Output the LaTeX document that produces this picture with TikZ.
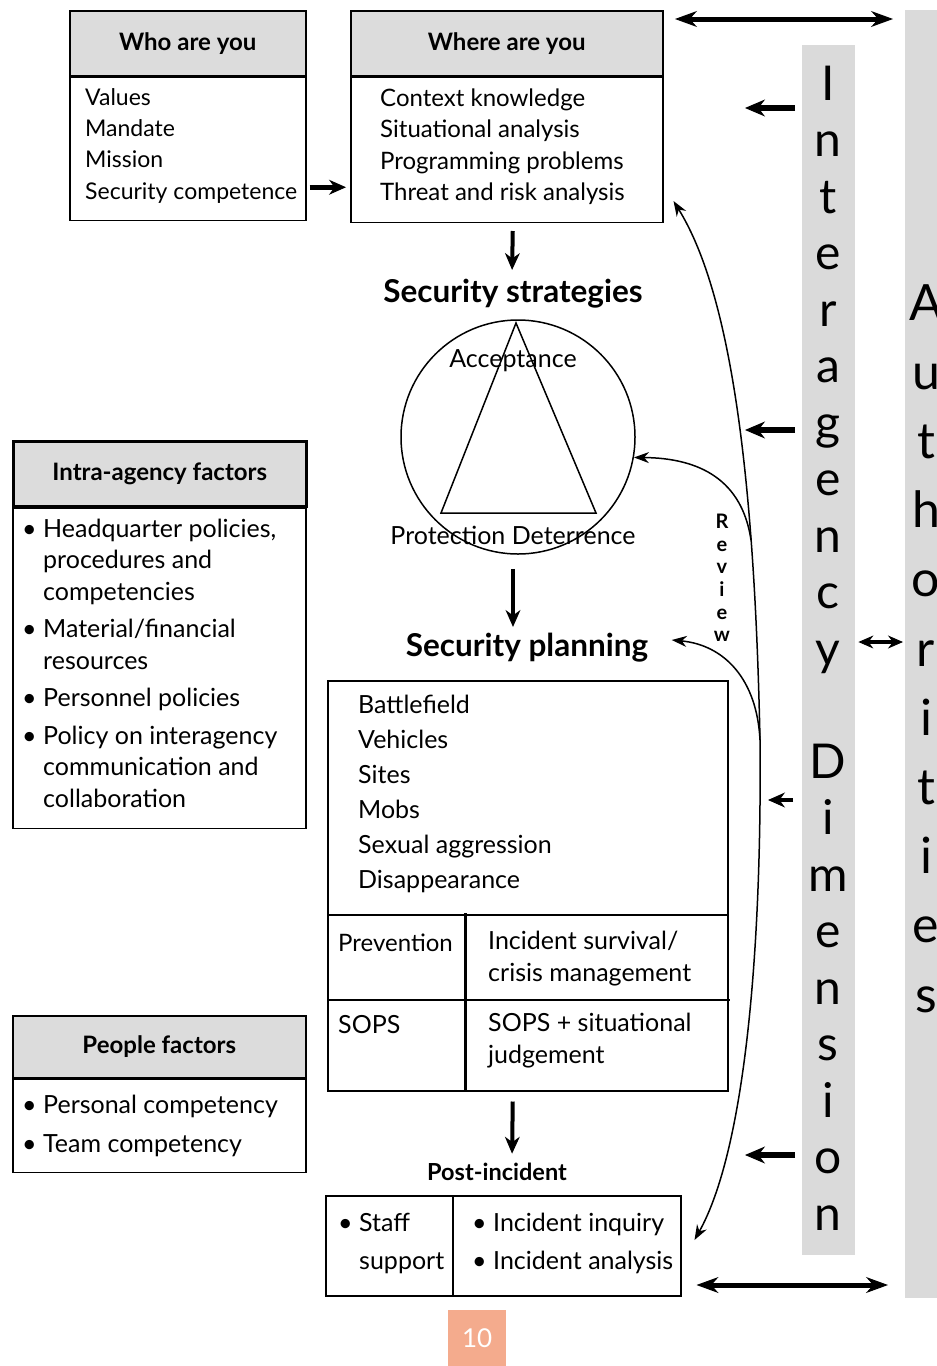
\documentclass[tikz,border=0pt]{standalone}
\usepackage{fontspec}
\setmainfont{Lato}
\usetikzlibrary{arrows.meta,positioning}
\definecolor{hgray}{HTML}{DCDCDC}
\definecolor{sgray}{HTML}{DADADA}
\definecolor{pgorange}{HTML}{F4AB8D}
\newcommand\txtfont{\fontsize{23}{31.3}\selectfont}
\newcommand\bigtxtfont{\fontsize{25}{31.5}\selectfont}
\newcommand\hdrfont{\bfseries\fontsize{24}{28}\selectfont}
\newcommand\bul{\makebox[21pt][l]{\textbullet}}
\newcommand\ind{\hspace*{21pt}}

\begin{document}
\begin{tikzpicture}[x=1pt,y=-1pt]
    \tikzstyle{hbox}=[draw, line width=1.5pt, fill=hgray, anchor=north west, minimum height=65pt, font=\hdrfont]
    \tikzstyle{bbox}=[draw, line width=1.5pt, anchor=north west]
    \tikzstyle{btxt}=[anchor=west, align=left, inner sep=0pt, font=\txtfont]
    \tikzstyle{ttl}=[font=\bfseries\fontsize{31.5}{36}\selectfont]
    \tikzstyle{marrs}=[line width=4pt,-{Stealth[length=17pt,width=15pt,line width=1pt]}]
    \tikzstyle{larrs}=[line width=6pt,-{Stealth[length=20pt,width=17pt,line width=1pt]}]
    \tikzstyle{darrs}=[line width=5pt,{Stealth[length=22pt,width=16pt,line width=1pt]}-{Stealth[length=22pt,width=16pt,line width=1pt]}]
    \tikzstyle{carr}=[line width=1.5pt,-{Stealth[length=15pt,width=11pt]}]
    \tikzstyle{cdarr}=[line width=1.5pt,{Stealth[length=15pt,width=11pt]}-{Stealth[length=15pt,width=11pt]}]
    \useasboundingbox (0,0) rectangle (937,1366);

    % the two dimension strips
    \node[fill=sgray, minimum width=53pt, minimum height=1210pt, anchor=north west, inner sep=0pt] (inter) at (802,45) {};
    \node[fill=sgray, minimum width=60pt, minimum height=1288pt, anchor=north west, inner sep=0pt] (auth) at (905,10) {};
    \foreach \c/\k in {I/0,n/1,t/2,e/3,r/4,a/5,g/6,e/7,n/8,c/9,y/10,D/12,i/13,m/14,e/15,n/16,s/17,i/18,o/19,n/20}
        \node[font=\fontsize{48}{50}\selectfont, anchor=base] (ia\k) at (828,{100+56.5*\k}) {\c};
    \foreach \c/\k in {A/0,u/1,t/2,h/3,o/4,r/5,i/6,t/7,i/8,e/9,s/10}
        \node[font=\fontsize{50}{52}\selectfont, anchor=base] (au\k) at (926,{320+69.2*\k}) {\c};

    % who / where
    \node[hbox, minimum width=236pt] (whohdr) at (69,10) {Who are you};
    \node[bbox, minimum width=236pt, minimum height=143pt] (whobody) at (whohdr.south west) {};
    \node[btxt] (whotxt) at ([xshift=16pt,yshift=3pt]whobody.west) {Values\\Mandate\\Mission\\Security competence};

    \node[hbox, minimum width=312pt] (wherehdr) at (350,10) {Where are you};
    \node[bbox, minimum width=312pt, minimum height=145pt] (wherebody) at (wherehdr.south west) {};
    \node[btxt, font=\fontsize{24}{31.3}\selectfont] (wheretxt) at ([xshift=30pt,yshift=3pt]wherebody.west) {Context knowledge\\Situational analysis\\Programming problems\\Threat and risk analysis};

    % left column
    \node[hbox, minimum width=293pt, line width=2.5pt] (intrahdr) at (12,440) {Intra-agency factors};
    \node[bbox, minimum width=293pt, minimum height=320pt] (intrabody) at (intrahdr.south west) {};
    \node[btxt, font=\bigtxtfont] (intratxt) at ([xshift=10pt,yshift=5pt]intrabody.west) {\bul Headquarter policies,\\\ind procedures and\\\ind competencies\\[6pt]\bul Material/financial\\\ind resources\\[6pt]\bul Personnel policies\\[6pt]\bul Policy on interagency\\\ind communication and\\\ind collaboration};

    \node[hbox, minimum width=293pt, minimum height=62pt] (peoplehdr) at (12,1015) {People factors};
    \node[bbox, minimum width=293pt, minimum height=93pt] (peoplebody) at (peoplehdr.south west) {};
    \node[btxt, font=\fontsize{25}{39}\selectfont] (peopletxt) at ([xshift=10pt]peoplebody.west) {\bul Personal competency\\\bul Team competency};

    % strategies
    \node[ttl] (strattitle) at (513,294) {Security strategies};
    \node[draw, circle, line width=1.5pt, minimum size=234pt] (strat) at (518,437) {};
    \draw[line width=1.5pt] (516,323) -- (441,513) -- (596,513) -- cycle;
    \node[font=\bigtxtfont] (acc) at (513,361) {Acceptance};
    \node[font=\bigtxtfont] (protdet) at (513,535) {Protection Deterrence};

    % planning
    \node[ttl] (plantitle) at (527,648) {Security planning};
    \node[bbox, minimum width=400pt, minimum height=410pt] (plan) at (327,680) {};
    \draw[line width=1.5pt] (327,915) -- (727,915);
    \draw[line width=1.5pt] (327,1000) -- (730,1000);
    \draw[line width=3pt] (465,913) -- (465,1090);
    \node[btxt, font=\fontsize{25}{35}\selectfont] (plantxt) at (358,794) {Battlefield\\Vehicles\\Sites\\Mobs\\Sexual aggression\\Disappearance};
    \node[btxt, font=\fontsize{24}{30}\selectfont] (prev) at (338,943) {Prevention};
    \node[btxt, font=\fontsize{25}{32}\selectfont] (survival) at (488,959) {Incident survival/\\crisis management};
    \node[btxt, font=\bigtxtfont] (sops) at (338,1025) {SOPS};
    \node[btxt, font=\fontsize{25}{32}\selectfont] (sopsjudge) at (488,1041) {SOPS + situational\\judgement};

    % post incident
    \node[font=\bfseries\fontsize{23.5}{26}\selectfont] (posttitle) at (497,1172) {Post-incident};
    \node[bbox, minimum width=355pt, minimum height=100pt] (post) at (325,1195) {};
    \draw[line width=1.5pt] (453,1195) -- (453,1295);
    \node[btxt, font=\fontsize{25}{38}\selectfont] (staff) at (338,1243) {\bul Staff\\\ind support};
    \node[btxt, font=\fontsize{25}{38}\selectfont] (inquiry) at (472,1243) {\bul Incident inquiry\\\bul Incident analysis};

    \node[fill=pgorange, minimum width=58pt, minimum height=56pt, anchor=north west, text=white, font=\fontsize{26}{30}\selectfont] (pg) at (448,1310) {10};

    % straight arrows
    \coordinate (wa) at ([yshift=-38.5pt]whobody.east);
    \draw[marrs, line width=5pt, shorten <=3pt, shorten >=4pt] (wa) -- (wa -| wherebody.west);
    \draw[marrs, shorten >=6pt] ([xshift=6pt,yshift=-8pt]wherebody.south) -- ([xshift=-1pt]strattitle.north);
    \draw[marrs, shorten >=3pt] ([xshift=-5pt,yshift=-14pt]strat.south) -- ([xshift=-14pt]plantitle.north);
    \draw[marrs, shorten >=6pt] ([xshift=-15pt,yshift=-10pt]plan.south) -- ([xshift=15pt]posttitle.north);

    \foreach \yy in {108,430,1155}
        \draw[larrs, shorten <=7pt] (inter.west |- 0,\yy) -- ++(-57,0);
    \draw[marrs, shorten <=9pt] (inter.west |- 0,800) -- ++(-34,0);

    \coordinate (tl) at (675,19);
    \draw[darrs, shorten >=12pt] (tl) -- (tl -| auth.west);
    \draw[line width=4pt, {Stealth[length=15pt,width=13pt,line width=1pt]}-{Stealth[length=15pt,width=13pt,line width=1pt]}, shorten <=3pt, shorten >=2pt] (inter.east |- 0,642) -- (auth.west |- 0,642);
    \coordinate (bl) at ([xshift=15pt]post.east |- 0,1285);
    \draw[darrs, shorten >=17pt] (bl) -- (bl -| auth.west);

    % review curves
    \coordinate (rv) at (760,740);
    \coordinate (rs) at (751,540);
    \draw[cdarr] ([xshift=13pt,yshift=-45pt]post.north east) .. controls (745,1150) and (762,950) .. (rv) .. controls (755,500) and (735,300) .. ([xshift=10pt,yshift=22pt]wherebody.south east);
    \draw[carr] (rs) .. controls (742,480) and (700,458) .. (strat.-10);
    \draw[carr] (rv) .. controls (757,680) and (725,645) .. ([xshift=20pt,yshift=8pt]plantitle.east);
    \node[font=\bfseries\fontsize{20}{22.6}\selectfont, align=center] (review) at (722,578) {R\\e\\v\\i\\e\\w};
\end{tikzpicture}
\end{document}
